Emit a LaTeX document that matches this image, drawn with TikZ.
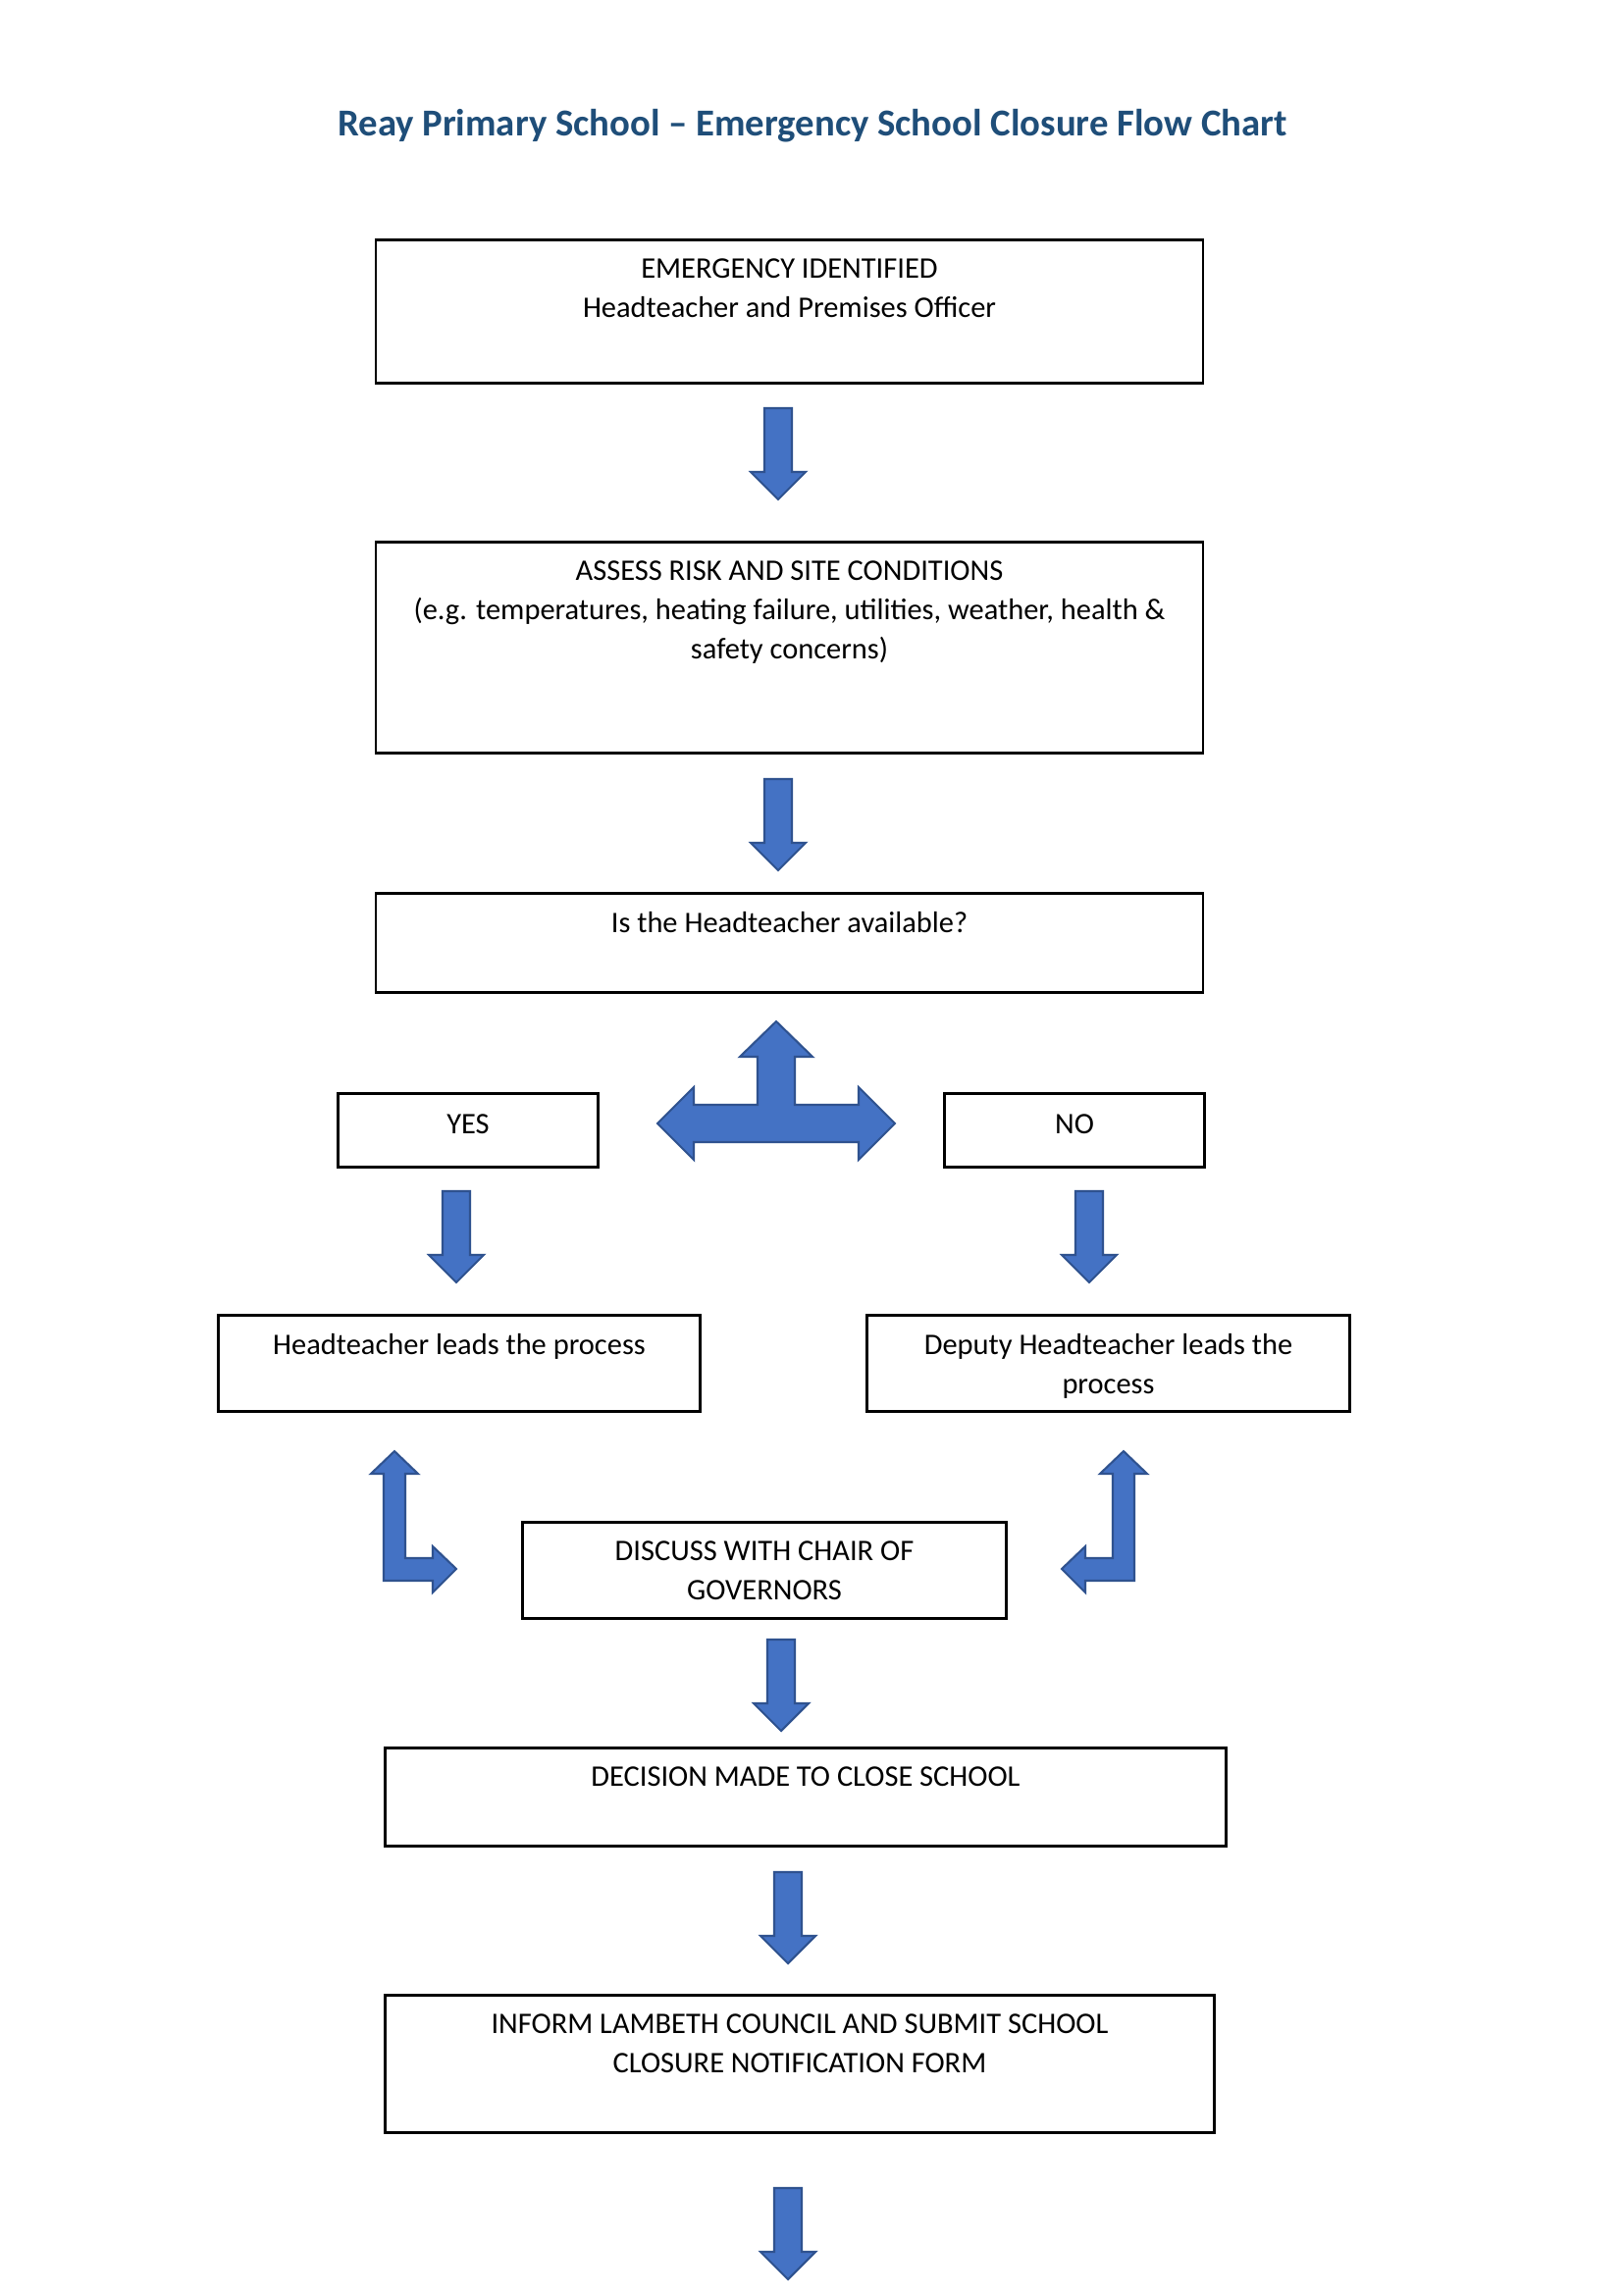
\documentclass[tikz,border=0pt]{standalone}
\usepackage{fontspec}
\setmainfont{Carlito}
\usetikzlibrary{positioning}
\newlength\px
\setlength\px{0.12697mm}
\definecolor{titleblue}{HTML}{1F4E79}
\definecolor{arrowfill}{HTML}{4472C4}
\definecolor{arrowline}{HTML}{2F528F}
\tikzset{
  box/.style={draw=black,line width=1pt,inner sep=0pt},
  txt/.style={inner sep=0pt,align=center,font=\fontsize{11}{14.4}\selectfont},
  blockarrow/.style={fill=arrowfill,draw=arrowline,line width=0.75pt,line join=miter},
  downarr/.pic={
    \path[blockarrow] (-14,0) -- (14,0) -- (14,65) -- (28,65) -- (0,93)
      -- (-28,65) -- (-14,65) -- cycle;
  },
  splitarr/.pic={
    \path[blockarrow] (0,-104) -- (37,-68) -- (19,-68) -- (19,-19) -- (84,-19)
      -- (84,-37) -- (121,0) -- (84,37) -- (84,19) -- (-84,19) -- (-84,37)
      -- (-121,0) -- (-84,-37) -- (-84,-19) -- (-19,-19) -- (-19,-68)
      -- (-37,-68) -- cycle;
  },
  % #1 = 1 turns right, -1 turns left
  cornerarr/.pic={
    \path[blockarrow] (0,0) -- (#1*24,23) -- (#1*11,23) -- (#1*11,109)
      -- (#1*39,109) -- (#1*39,97) -- (#1*63,120) -- (#1*39,144)
      -- (#1*39,132) -- (-#1*11,132) -- (-#1*11,23) -- (-#1*24,23) -- cycle;
  }
}
\begin{document}
\begin{tikzpicture}[x=0.12697mm,y=-0.12697mm]
  \path[fill=white] (0,0) rectangle (1654,2339);

  \node[font=\fontsize{14}{17}\selectfont\bfseries,text=titleblue] (title) at (828,128)
    {Reay Primary School -- Emergency School Closure Flow Chart};

  % boxes
  \node[box,minimum width=843\px,minimum height=146\px] (emerg) at (804.5,317.5) {};
  \node[box,minimum width=843\px,minimum height=215\px] (assess) at (804.5,660) {};
  \node[box,minimum width=843\px,minimum height=101\px] (avail) at (804.5,961) {};
  \node[box,minimum width=265\px,minimum height=75\px] (yes) at (477,1152) {};
  \node[box,minimum width=265\px,minimum height=75\px] (no) at (1095,1152) {};
  \node[box,minimum width=491\px,minimum height=98\px] (head) at (468,1389.5) {};
  \node[box,minimum width=492\px,minimum height=98\px] (deputy) at (1129.5,1389.5) {};
  \node[box,minimum width=493\px,minimum height=98\px] (chair) at (779,1600.5) {};
  \node[box,minimum width=857\px,minimum height=100\px] (decide) at (821,1831.5) {};
  \node[box,minimum width=845\px,minimum height=140\px] (inform) at (815,2103.5) {};

  % texts
  \node[txt,below=20\px of emerg.north] (emergtxt)
    {EMERGENCY IDENTIFIED\\Headteacher and Premises Officer};
  \node[txt,below=20\px of assess.north] (assesstxt)
    {ASSESS RISK AND SITE CONDITIONS\\(e.g. temperatures, heating failure, utilities, weather, health \&\\safety concerns)};
  \node[txt,below=20\px of avail.north] (availtxt) {Is the Headteacher available?};
  \node[txt,below=22\px of yes.north] (yestxt) {YES};
  \node[txt,below=22\px of no.north] (notxt) {NO};
  \node[txt,below=20\px of head.north] (headtxt) {Headteacher leads the process};
  \node[txt,below=20\px of deputy.north] (deputytxt) {Deputy Headteacher leads the\\process};
  \node[txt,below=20\px of chair.north] (chairtxt) {DISCUSS WITH CHAIR OF\\GOVERNORS};
  \node[txt,below=20\px of decide.north] (decidetxt) {DECISION MADE TO CLOSE SCHOOL};
  \node[txt,below=20\px of inform.north] (informtxt)
    {INFORM LAMBETH COUNCIL AND SUBMIT SCHOOL\\CLOSURE NOTIFICATION FORM};

  % arrows
  \pic at (793,416) {downarr};
  \pic at (793,794) {downarr};
  \pic at (791,1145) {splitarr};
  \pic at (465,1214) {downarr};
  \pic at (1110,1214) {downarr};
  \pic at (402,1479) {cornerarr=1};
  \pic at (1145,1479) {cornerarr=-1};
  \pic at (796,1671) {downarr};
  \pic at (803,1908) {downarr};
  \pic at (803,2230) {downarr};
\end{tikzpicture}
\end{document}
